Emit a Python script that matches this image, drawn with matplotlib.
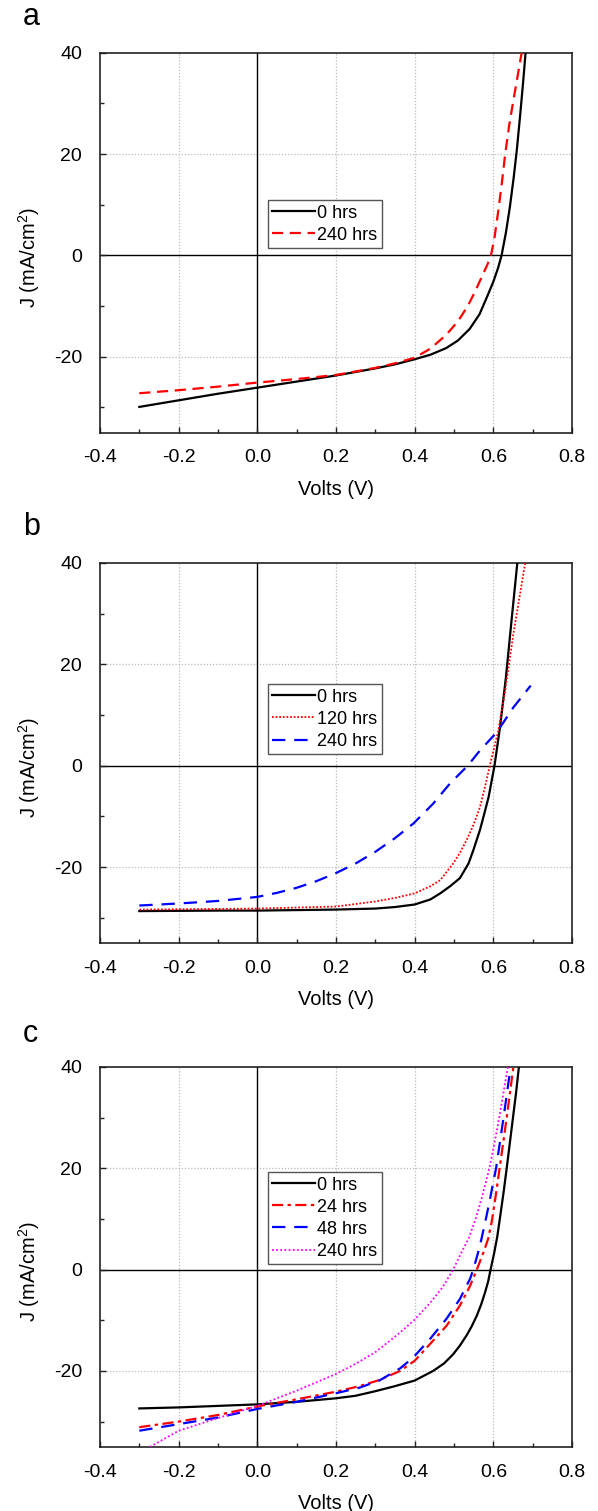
"""J-V curves of three devices over ageing time (panels a, b, c).

Agg backend, 598x1511 px output.
"""
import matplotlib
matplotlib.use("Agg")
import matplotlib.pyplot as plt
from matplotlib.ticker import MultipleLocator

# ---- data (V in volts, J in mA/cm^2) ----
# panel a
A0_V = [-0.30, -0.20, -0.10, 0.00, 0.10, 0.20, 0.30, 0.35, 0.40, 0.44, 0.48, 0.51, 0.54, 0.565, 0.585,
        0.600, 0.612, 0.621, 0.632, 0.642, 0.652, 0.660, 0.668, 0.675, 0.682]
A0_J = [-29.9, -28.6, -27.3, -26.1, -24.9, -23.7, -22.3, -21.5, -20.5, -19.6, -18.3, -16.8, -14.5, -11.6, -8.0,
        -5.2, -2.5, 0.0, 4.5, 9.5, 15.5, 21.0, 27.5, 33.5, 40.0]
A240_V = [-0.30, -0.20, -0.10, 0.00, 0.10, 0.20, 0.30, 0.35, 0.40, 0.44, 0.48, 0.51, 0.535, 0.555, 0.572,
          0.585, 0.594, 0.603, 0.613, 0.622, 0.630, 0.640, 0.651, 0.662, 0.672]
A240_J = [-27.2, -26.6, -25.9, -25.1, -24.4, -23.6, -22.2, -21.3, -20.2, -18.4, -15.7, -13.0, -10.0, -6.9, -4.0,
          -1.8, 0.0, 3.5, 9.0, 14.5, 19.9, 25.5, 30.6, 35.5, 40.0]

# panel b
B0_V = [-0.30, -0.10, 0.00, 0.20, 0.30, 0.35, 0.40, 0.44, 0.465, 0.49, 0.515, 0.537, 0.55, 0.566, 0.577,
        0.588, 0.603, 0.617, 0.632, 0.647, 0.661]
B0_J = [-28.7, -28.6, -28.6, -28.4, -28.2, -27.9, -27.4, -26.4, -25.2, -23.8, -22.2, -19.3, -16.5, -12.7, -9.5,
        -6.2, 0.0, 7.6, 17.4, 29.2, 40.0]
B120_V = [-0.30, 0.00, 0.20, 0.30, 0.35, 0.40, 0.44, 0.465, 0.498, 0.515, 0.532, 0.55, 0.566, 0.58, 0.591,
          0.602, 0.613, 0.630, 0.651, 0.672, 0.681]
B120_J = [-28.4, -28.2, -27.8, -26.8, -26.1, -25.2, -23.8, -22.6, -19.3, -17.2, -14.7, -11.6, -8.2, -3.8, 0.0,
          3.5, 7.0, 14.8, 26.0, 35.8, 40.0]
B240_V = [-0.30, -0.20, -0.10, 0.00, 0.05, 0.10, 0.15, 0.20, 0.25, 0.30, 0.35, 0.397, 0.447, 0.490, 0.535,
          0.566, 0.609, 0.651, 0.695]
B240_J = [-27.6, -27.2, -26.7, -25.9, -25.1, -24.1, -22.8, -21.2, -19.3, -17.0, -14.3, -11.4, -7.5, -3.5, 0.0,
          3.0, 6.6, 11.5, 15.8]

# panel c
C0_V = [-0.30, -0.20, -0.10, 0.00, 0.10, 0.20, 0.25, 0.30, 0.35, 0.40, 0.447, 0.475, 0.498, 0.515, 0.532,
        0.545, 0.558, 0.569, 0.579, 0.587, 0.593, 0.602, 0.610, 0.618, 0.626, 0.634, 0.642, 0.650, 0.658, 0.665]
C0_J = [-27.4, -27.2, -26.9, -26.6, -26.1, -25.4, -24.9, -24.0, -23.0, -21.9, -20.0, -18.5, -16.7, -15.0, -13.0,
        -11.2, -9.1, -6.9, -4.5, -2.3, 0.0, 3.2, 6.5, 10.8, 15.2, 20.0, 25.0, 30.0, 35.0, 40.0]
C24_V = [-0.30, -0.20, -0.10, 0.00, 0.10, 0.20, 0.26, 0.31, 0.363, 0.40, 0.439, 0.481, 0.515, 0.541, 0.558,
         0.575, 0.587, 0.596, 0.606, 0.616, 0.634, 0.651]
C24_J = [-31.1, -30.0, -28.7, -27.0, -25.6, -24.1, -23.0, -21.8, -20.0, -18.0, -14.7, -11.1, -7.1, -3.2, 0.0,
         3.4, 6.1, 9.5, 14.5, 20.0, 30.0, 40.0]
C48_V = [-0.30, -0.20, -0.10, 0.00, 0.10, 0.20, 0.26, 0.31, 0.363, 0.397, 0.439, 0.481, 0.515, 0.541, 0.549,
         0.560, 0.570, 0.580, 0.590, 0.598, 0.607, 0.626, 0.644]
C48_J = [-31.8, -30.5, -29.2, -27.5, -26.1, -24.4, -23.3, -21.9, -19.5, -17.3, -13.7, -9.7, -5.8, -1.8, 0.0,
         3.0, 6.1, 9.6, 13.3, 16.5, 20.0, 30.0, 40.0]
C240_V = [-0.273, -0.20, -0.10, 0.00, 0.10, 0.20, 0.25, 0.30, 0.354, 0.397, 0.439, 0.470, 0.498, 0.519, 0.537,
          0.555, 0.572, 0.590, 0.603, 0.615, 0.626, 0.637]
C240_J = [-35.0, -31.8, -29.3, -26.9, -23.9, -20.6, -18.6, -16.3, -13.0, -10.1, -6.6, -3.6, 0.0, 3.4, 6.1,
          10.0, 14.5, 20.0, 25.0, 30.0, 35.0, 40.0]

XTICKS = [-0.4, -0.2, 0.0, 0.2, 0.4, 0.6, 0.8]
YTICKS = [-20, 0, 20, 40]

# line styles
SOLID = dict(color="black", lw=1.6, ls="-")
RED_DASH = dict(color="#ff0000", lw=1.6, ls=(0, (5, 3)))
RED_DOT = dict(color="#ff0000", lw=1.3, ls=(0, (1, 1)))
BLUE_DASH = dict(color="#0000ff", lw=1.6, ls=(0, (6, 4)))
RED_DASHDOT = dict(color="#ff0000", lw=1.6, ls=(0, (5, 2, 1.5, 2)))
MAG_DOT = dict(color="#ff00ff", lw=1.3, ls=(0, (1, 1.3)))

PANELS = [
    ("a", 0.7136, 0.612, [(A0_V, A0_J, "0 hrs", SOLID), (A240_V, A240_J, "240 hrs", RED_DASH)]),
    ("b", 0.3759, 0.681, [(B0_V, B0_J, "0 hrs", SOLID), (B120_V, B120_J, "120 hrs", RED_DOT),
                          (B240_V, B240_J, "240 hrs", BLUE_DASH)]),
    ("c", 0.0424, 0.723, [(C0_V, C0_J, "0 hrs", SOLID), (C24_V, C24_J, "24 hrs", RED_DASHDOT),
                          (C48_V, C48_J, "48 hrs", BLUE_DASH), (C240_V, C240_J, "240 hrs", MAG_DOT)]),
]


def style_axes(ax):
    ax.set_xlim(-0.4, 0.8)
    ax.set_ylim(-35, 40)
    ax.set_xticks(XTICKS)
    ax.set_xticklabels([f"{t:.1f}" for t in XTICKS])
    ax.set_yticks(YTICKS)
    ax.xaxis.set_minor_locator(MultipleLocator(0.1))
    ax.yaxis.set_minor_locator(MultipleLocator(10))
    ax.tick_params(which="both", direction="in", top=False, right=False, width=1.0, color="#222222")
    ax.tick_params(which="major", length=4.5)
    ax.tick_params(which="minor", length=3)
    ax.tick_params(axis="x", which="major", pad=12, labelsize=14)
    ax.tick_params(axis="y", which="major", pad=13, labelsize=14)
    for sp in ax.spines.values():
        sp.set_linewidth(1.2)
        sp.set_color("#222222")
    # dotted grid, but the zero lines are solid black
    for x in (-0.2, 0.2, 0.4, 0.6):
        ax.axvline(x, color="#bbbbbb", lw=0.9, ls=(0, (1, 1.5)), zorder=0)
    for y in (-20, 20):
        ax.axhline(y, color="#bbbbbb", lw=0.9, ls=(0, (1, 1.5)), zorder=0)
    ax.axvline(0, color="black", lw=1.0, zorder=1)
    ax.axhline(0, color="black", lw=1.0, zorder=1)
    ax.set_xlabel("Volts (V)", fontsize=14.5)
    ax.set_ylabel("J (mA/cm$^2$)", fontsize=14.5)
    ax.xaxis.set_label_coords(0.5, -0.1245)
    ax.yaxis.set_label_coords(-0.123, 0.462)


def main():
    plt.rcParams.update({
        "font.family": ["Liberation Sans", "DejaVu Sans"],
        "mathtext.fontset": "custom",
        "mathtext.rm": "Liberation Sans",
        "mathtext.default": "regular",
        "axes.unicode_minus": False,
    })
    fig = plt.figure(figsize=(5.98, 15.11), dpi=100)

    letter_y = {"a": 0.9835, "b": 0.6459, "c": 0.3106}
    for letter, bottom, leg_top, series in PANELS:
        ax = fig.add_axes([0.1672, bottom, 0.7893, 0.2515])
        style_axes(ax)
        for v, j, lab, st in series:
            ax.plot(v, j, label=lab, zorder=3, **st)
        leg = ax.legend(loc="upper left", bbox_to_anchor=(0.355, leg_top), borderaxespad=0,
                        fontsize=13, frameon=True, fancybox=False, framealpha=1,
                        handlelength=2.4, handletextpad=0.1, labelspacing=0.28,
                        borderpad=0.25)
        leg.get_frame().set_edgecolor("#555555")
        leg.get_frame().set_linewidth(1.0)
        fig.text(0.038, letter_y[letter], letter, fontsize=22, va="baseline", ha="left")

    fig.savefig("out.png", dpi=100)
    plt.close(fig)


if __name__ == "__main__":
    main()
